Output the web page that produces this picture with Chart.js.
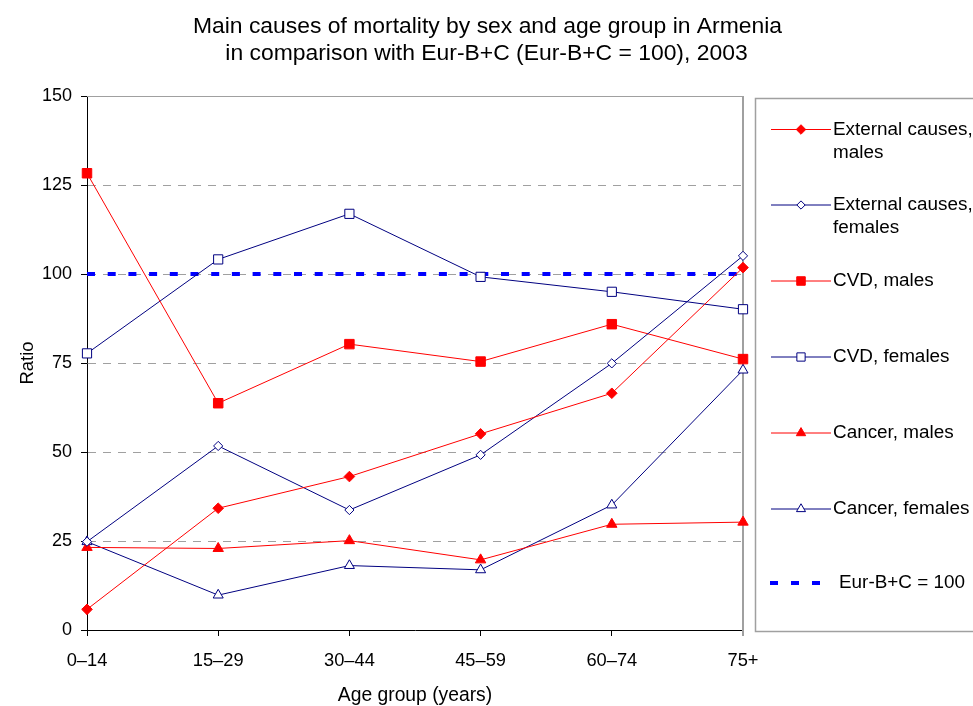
<!DOCTYPE html>
<html>
<head>
<meta charset="utf-8">
<script src="https://cdn.jsdelivr.net/npm/chart.js@4.4.1/dist/chart.umd.min.js"></script>
<style>
  html, body { margin: 0; padding: 0; background: #fff; }
  #wrap { position: relative; width: 973px; height: 706px; }
</style>
</head>
<body>
<div id="wrap"><canvas id="c" width="973" height="706"></canvas></div>
<script>
// Age groups on the x axis
const ageGroups = ['0–14', '15–29', '30–44', '45–59', '60–74', '75+'];

// Mortality ratios, Armenia vs Eur-B+C (Eur-B+C = 100)
const externalMales   = [5.8, 34.2, 43.1, 55.1, 66.5, 101.8];
const externalFemales = [24.8, 51.7, 33.7, 49.2, 74.9, 105.1];
const cvdMales        = [128.3, 63.7, 80.3, 75.4, 85.9, 76.1];
const cvdFemales      = [77.7, 104.1, 116.9, 99.2, 95.0, 90.1];
const cancerMales     = [23.2, 22.9, 25.1, 19.7, 29.7, 30.3];
const cancerFemales   = [24.8, 9.8, 18.1, 16.9, 35.1, 73.0];
const referenceLevel  = [100, 100, 100, 100, 100, 100];

// Y axis tick values
const yTicks = [0, 25, 50, 75, 100, 125, 150];

const titleLines = [
  'Main causes of mortality by sex and age group in Armenia',
  'in comparison with Eur-B+C (Eur-B+C = 100), 2003'
];

const RED = '#ff0000';
const NAVY = '#000080';
const FONT = '"Liberation Sans", Arial, Helvetica, sans-serif';

function series(label, data, color, style, filled, radius) {
  return {
    label: label,
    data: data,
    borderColor: color,
    backgroundColor: color,
    borderWidth: 1,
    tension: 0,
    pointStyle: style,
    pointRadius: radius,
    pointHoverRadius: radius,
    pointBorderColor: color,
    pointBackgroundColor: filled ? color : '#ffffff',
    pointBorderWidth: 1,
    filled: filled
  };
}

const datasets = [
  series(['External causes,', 'males'], externalMales, RED, 'rectRot', true, 5.3),
  series(['External causes,', 'females'], externalFemales, NAVY, 'rectRot', false, 4.6),
  series(['CVD, males'], cvdMales, RED, 'rect', true, 6.7),
  series(['CVD, females'], cvdFemales, NAVY, 'rect', false, 6.5),
  series(['Cancer, males'], cancerMales, RED, 'triangle', true, 6),
  series(['Cancer, females'], cancerFemales, NAVY, 'triangle', false, 5.8),
  {
    label: ['Eur-B+C = 100'],
    data: referenceLevel,
    borderColor: '#0000ff',
    borderWidth: 4,
    borderDash: [8, 12.7],
    borderCapStyle: 'butt',
    pointRadius: 0,
    pointHoverRadius: 0,
    tension: 0,
    isReference: true
  }
];

// Title lines, plot frame (top and right edges) and the boxed legend
const decorations = {
  id: 'decorations',
  beforeDatasetsDraw(chart) {
    const ctx = chart.ctx;
    const a = chart.chartArea;
    ctx.save();
    ctx.strokeStyle = '#a0a0a0';
    ctx.lineWidth = 1;
    ctx.beginPath();
    ctx.moveTo(a.left, a.top + 0.5);
    ctx.lineTo(a.right, a.top + 0.5);
    ctx.stroke();
    ctx.lineWidth = 2;
    ctx.beginPath();
    ctx.moveTo(a.right, a.top);
    ctx.lineTo(a.right, a.bottom + 6);
    ctx.stroke();
    ctx.restore();
  },
  afterDraw(chart) {
    const ctx = chart.ctx;
    ctx.save();
    // title
    ctx.fillStyle = '#000';
    ctx.textAlign = 'center';
    ctx.textBaseline = 'alphabetic';
    ctx.font = '22.9px ' + FONT;
    ctx.fillText(titleLines[0], 487.5, 33);
    ctx.fillText(titleLines[1], 486.5, 60);

    // legend box
    ctx.strokeStyle = '#a0a0a0';
    ctx.lineWidth = 1.5;
    ctx.strokeRect(755.5, 98.5, 240, 533);

    const rows = [129.5, 205, 281, 357, 433, 509, 583];
    ctx.font = '18.9px ' + FONT;
    ctx.textAlign = 'left';
    ctx.textBaseline = 'middle';
    chart.data.datasets.forEach((ds, i) => {
      const y = rows[i];
      if (ds.isReference) {
        ctx.strokeStyle = ds.borderColor;
        ctx.lineWidth = 4;
        ctx.setLineDash([8, 13]);
        ctx.beginPath();
        ctx.moveTo(770, y);
        ctx.lineTo(821, y);
        ctx.stroke();
        ctx.setLineDash([]);
        ctx.fillStyle = '#000';
        ctx.fillText(ds.label[0], 839, y);
        return;
      }
      ctx.strokeStyle = ds.borderColor;
      ctx.lineWidth = 1;
      ctx.beginPath();
      ctx.moveTo(771, y);
      ctx.lineTo(831, y);
      ctx.stroke();
      ctx.fillStyle = ds.pointBackgroundColor;
      ctx.strokeStyle = ds.pointBorderColor;
      Chart.helpers.drawPoint(ctx, {
        pointStyle: ds.pointStyle,
        radius: ds.pointRadius * 0.9,
        rotation: 0,
        borderWidth: 1
      }, 801, y);
      ctx.fillStyle = '#000';
      ds.label.forEach((line, k) => ctx.fillText(line, 833, y + k * 23));
    });
    ctx.restore();
  }
};

new Chart(document.getElementById('c'), {
  type: 'line',
  data: { labels: ageGroups, datasets: datasets },
  options: {
    responsive: false,
    animation: false,
    devicePixelRatio: 1,
    layout: { padding: { left: 0, top: 96, right: 230, bottom: 0 } },
    plugins: { legend: { display: false }, tooltip: { enabled: false }, title: { display: false } },
    scales: {
      x: {
        type: 'category',
        offset: false,
        afterFit: s => { s.height = 76; },
        grid: { drawOnChartArea: false, tickLength: 6, tickColor: '#000', tickWidth: 1 },
        border: { color: '#000', width: 1 },
        ticks: { color: '#000', padding: 14, maxRotation: 0, autoSkip: false, font: { family: FONT, size: 18.3 } },
        title: {
          display: true, text: 'Age group (years)', color: '#000',
          font: { family: FONT, size: 19.3, lineHeight: 1 }, padding: { top: 0, bottom: 1 }
        }
      },
      y: {
        min: 0, max: 150,
        afterFit: s => { s.width = 87; },
        afterBuildTicks: s => { s.ticks = yTicks.map(v => ({ value: v })); },
        grid: {
          color: c => (c.tick && (c.tick.value === 0 || c.tick.value === 150)) ? 'rgba(0,0,0,0)' : '#a0a0a0',
          tickLength: 6, tickColor: '#000', tickWidth: 1, lineWidth: 1
        },
        border: { color: '#000', width: 1, dash: [8, 7] },
        ticks: { color: '#000', padding: 9, font: { family: FONT, size: 18 } },
        title: {
          display: true, text: 'Ratio', color: '#000',
          font: { family: FONT, size: 18.5, lineHeight: 1 }, padding: { top: 19, bottom: 0 }
        }
      }
    }
  },
  plugins: [decorations]
});
</script>
</body>
</html>
